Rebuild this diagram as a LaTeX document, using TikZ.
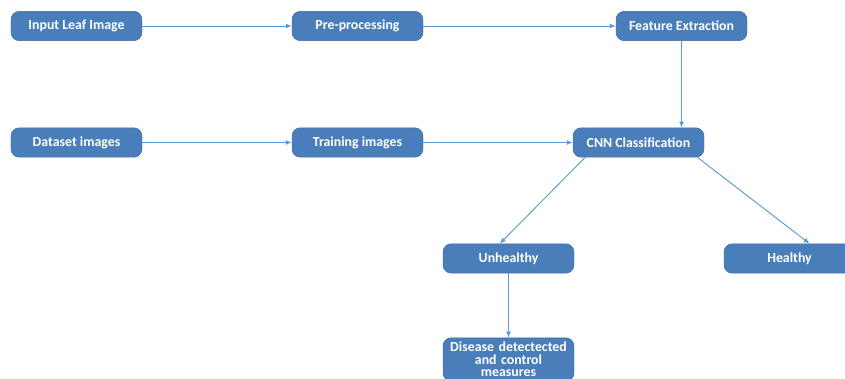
\documentclass[tikz,border=0pt]{standalone}
\usepackage{fontspec}
\setmainfont{Carlito}
\usepackage{xcolor}
\usetikzlibrary{arrows.meta,positioning}
\definecolor{boxblue}{HTML}{4A7EBB}
\definecolor{lineblue}{HTML}{5B9BD5}

\begin{document}
\begin{tikzpicture}[
  x=0.03cm, y=-0.03cm,
  font=\fontsize{11.8}{12.5}\selectfont\bfseries,
  sbox/.style = {draw=boxblue!85!black, rounded corners=7pt, minimum height=0.88cm,
                 minimum width=3.93cm, fill=boxblue, text=white, align=center, inner sep=1pt},
  arr/.style  = {-{Latex[length=1.8mm,width=1.5mm]}, lineblue, thick}
]
\useasboundingbox (0,0) rectangle (845,378);
%% -- Upper row --
\node[sbox] (inp) at (76.5,26)  {Input Leaf Image};
\node[sbox] (pre) at (357.5,26) {Pre-processing};
\node[sbox] (fex) at (681.5,26) {Feature Extraction};
%% -- Middle row --
\node[sbox] (dat) at (76.5,142.5)  {Dataset images};
\node[sbox] (trn) at (357.5,142.5) {Training images};
\node[sbox] (cnn) at (638.5,142.5) {CNN Classification};
%% -- Outcomes --
\node[sbox] (unh) at (508.5,258.5) {Unhealthy};
\node[sbox] (hlt) at (789.5,258.5) {Healthy};
\node[sbox, minimum height=1.3cm, text width=3.8cm,
      font=\fontsize{11.8}{10.8}\selectfont\bfseries] (dis) at (508.5,359.5)
     {Disease detectected\\and control\\measures};
%% -- Flow --
\draw[arr] (inp)--(pre);
\draw[arr] (pre)--(fex);
\draw[arr] (dat)--(trn);
\draw[arr] (trn)--(cnn);
\draw[arr] (fex.south)--(fex.south |- cnn.north);
\draw[arr] ([xshift=-1.6cm]cnn.south)--([xshift=-0.26cm]unh.north);
\draw[arr] ([xshift=1.77cm]cnn.south)--([xshift=0.6cm]hlt.north);
\draw[arr] (unh)--(dis);
\end{tikzpicture}
\end{document}
